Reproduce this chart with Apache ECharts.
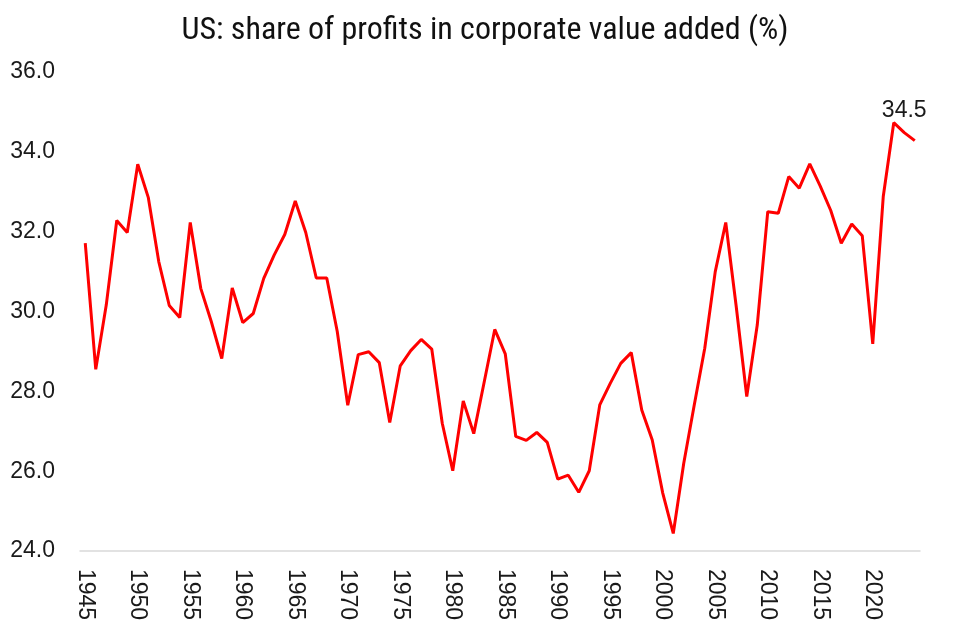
<!DOCTYPE html>
<html>
<head>
<meta charset="utf-8">
<script src="https://cdn.jsdelivr.net/npm/echarts@6/dist/echarts.min.js"></script>
<style>html,body{margin:0;padding:0;background:#fff;}#c{width:970px;height:631px;}</style>
</head>
<body>
<div id="c"></div>
<script>
const years = [];
for (let y = 1945; y <= 2024; y++) years.push(String(y));
const profitShare = [
  31.71, 28.55, 30.16, 32.28, 31.98, 33.69, 32.86, 31.25, 30.15, 29.85,
  32.23, 30.58, 29.75, 28.82, 30.59, 29.72, 29.95, 30.83, 31.42, 31.93,
  32.77, 31.98, 30.84, 30.84, 29.50, 27.65, 28.92, 28.99, 28.72, 27.22,
  28.64, 29.02, 29.30, 29.06, 27.20, 26.01, 27.76, 26.94, 28.24, 29.55,
  28.94, 26.87, 26.77, 26.97, 26.72, 25.80, 25.90, 25.47, 26.01, 27.66,
  28.20, 28.70, 28.97, 27.53, 26.78, 25.45, 24.44, 26.20, 27.66, 29.08,
  31.00, 32.23, 30.12, 27.87, 29.66, 32.50, 32.46, 33.38, 33.09, 33.70,
  33.14, 32.53, 31.71, 32.19, 31.90, 29.19, 32.88, 34.73, 34.48, 34.28
];
const labelYear = '2023';
const titleText = 'US: share of profits in corporate value added (%)';

const chart = echarts.init(document.getElementById('c'));
const seriesData = profitShare.map((v, i) => years[i] === labelYear
  ? { value: v, label: { show: true, position: 'top', distance: 11, fontSize: 23, color: '#1a1a1a',
      fontFamily: 'Liberation Sans, Arial, sans-serif', formatter: p => p.value.toFixed(1) } }
  : v);

chart.setOption({
  animation: false,
  backgroundColor: '#ffffff',
  title: {
    text: titleText,
    left: 'center',
    top: 10,
    textStyle: { fontSize: 32, fontWeight: 'normal', color: '#111',
      fontFamily: 'Liberation Sans Narrow, Roboto Condensed, Roboto, sans-serif' }
  },
  grid: { left: 80, right: 50, top: 72, bottom: 80, containLabel: false },
  xAxis: {
    type: 'category',
    data: years,
    boundaryGap: true,
    axisLine: { lineStyle: { color: '#d9d9d9', width: 1.5 } },
    axisTick: { show: false },
    axisLabel: { interval: 4, rotate: -90, fontSize: 23, color: '#1a1a1a', margin: 18,
      fontFamily: 'Liberation Sans, Arial, sans-serif' },
    splitLine: { show: false }
  },
  yAxis: {
    type: 'value',
    min: 24, max: 36, interval: 2,
    axisLine: { show: false },
    axisTick: { show: false },
    splitLine: { show: false },
    axisLabel: { fontSize: 23, color: '#1a1a1a', margin: 25,
      fontFamily: 'Liberation Sans, Arial, sans-serif',
      formatter: v => v.toFixed(1) }
  },
  series: [{
    type: 'line',
    data: seriesData,
    showSymbol: true,
    symbol: 'circle',
    symbolSize: 0,
    lineStyle: { color: '#ff0000', width: 3 },
    itemStyle: { color: '#ff0000' },
    emphasis: { disabled: true }
  }]
});
</script>
</body>
</html>
